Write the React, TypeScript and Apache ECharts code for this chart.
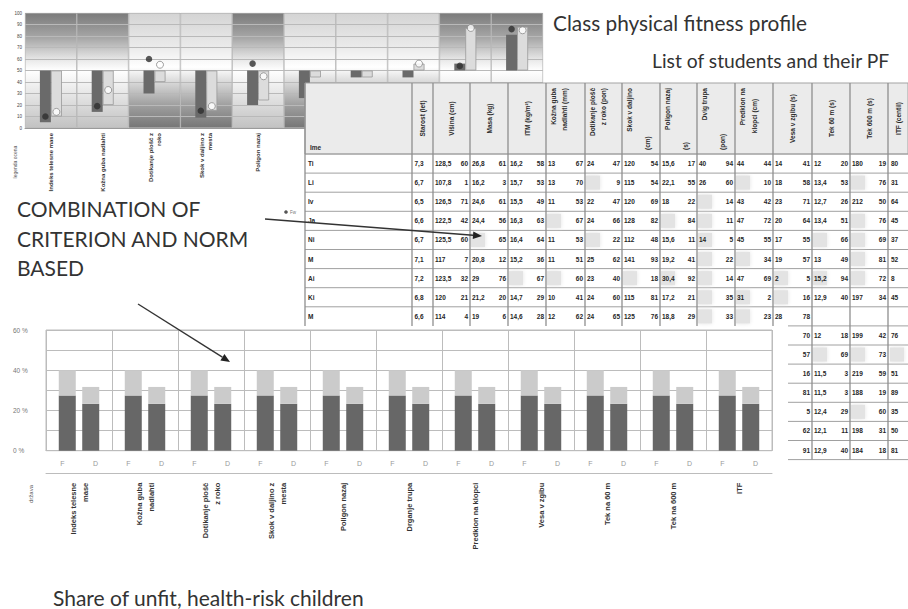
import React, { useEffect, useRef } from "react";
import * as echarts from "echarts";

// ---------------- Top chart: class physical fitness profile ----------------
const profileCategories = [
  "Indeks telesne mase",
  "Kožna guba nadlahti",
  "Dotikanje plošč z\nroko",
  "Skok v daljino z\nmesta",
  "Poligon nazaj",
  "Dviganje trupa",
  "Predklon na klopci",
  "Vesa v zgibu",
  "Tek na 60 m",
  "Tek na 600 m",
];
const profileDarkBar = [5, 14, 30, 9, 20, 26, 44, 44, 56, 81];
const profileLightBar = [10, 20, 40, 15, 24, 44, 44, 56, 87, 88];
const profileDarkDot = [10, 19, 60, 15, 56, null, null, null, 54, 86];
const profileLightDot = [14, 33, 55, 19, 45, null, null, 56, 87, 85];
const profileTicks = [0, 10, 20, 30, 40, 50, 60, 70, 80, 90, 100];
const profileBaseline = 50;
const profileShade = ["top", "top", "bottom", "bottom", "top", "bottom", "bottom", "bottom", "top", "top"];

// ---------------- Bottom chart: share of unfit children ----------------
const unfitCategories = [
  "Indeks telesne\nmase",
  "Kožna guba\nnadlahti",
  "Dotikanje plošč\nz roko",
  "Skok v daljino z\nmesta",
  "Poligon nazaj",
  "Drganje trupa",
  "Predklon na klopci",
  "Vesa v zgibu",
  "Tek na 60 m",
  "Tek na 600 m",
  "ITF",
];
const unfitSubLabels = ["F", "D"];
const fUnfitDark = [27.5, 27.5, 27.5, 27.5, 27.5, 27.5, 27.5, 27.5, 27.5, 27.5, 27.5];
const fUnfitLight = [12.5, 12.5, 12.5, 12.5, 12.5, 12.5, 12.5, 12.5, 12.5, 12.5, 12.5];
const dUnfitDark = [23.3, 23.3, 23.3, 23.3, 23.3, 23.3, 23.3, 23.3, 23.3, 23.3, 23.3];
const dUnfitLight = [8.4, 8.4, 8.4, 8.4, 8.4, 8.4, 8.4, 8.4, 8.4, 8.4, 8.4];
const unfitTicks = [0, 10, 20, 30, 40, 50, 60];

// ---------------- Student table ----------------
const tableHeaders = [
  ["Ime"],
  ["Starost (let)"],
  ["Višina (cm)"],
  ["Masa (kg)"],
  ["ITM (kg/m²)"],
  ["Kožna guba", "nadlahti (mm)"],
  ["Dotikanje plošč", "z roko (pon)"],
  ["Skok v daljino", "(cm)"],
  ["Poligon nazaj", "(s)"],
  ["Dvig trupa", "(pon)"],
  ["Predklon na", "klopci (cm)"],
  ["Vesa v zgibu (s)"],
  ["Tek 60 m (s)"],
  ["Tek 600 m (s)"],
  ["ITF (centil)"],
];
// "~" = blurred cell, "*" = highlighted cell
const studentRows = [
  ["Ti", "7,3", "128,5", "60", "26,8", "61", "16,2", "58", "13", "67", "24", "47", "120", "54", "15,6", "17", "40", "94", "44", "44", "14", "41", "12", "20", "180", "19", "80"],
  ["Li", "6,7", "107,8", "1", "16,2", "3", "15,7", "53", "13", "70", "~", "9", "115", "54", "22,1", "55", "26", "60", "~", "10", "18", "58", "13,4", "53", "~", "76", "31"],
  ["Iv", "6,5", "126,5", "71", "24,6", "61", "15,5", "49", "11", "53", "22", "47", "120", "69", "18", "22", "~", "14", "43", "42", "23", "71", "12,7", "26", "212", "50", "64"],
  ["Ja", "6,6", "122,5", "42", "24,4", "56", "16,3", "63", "~", "67", "24", "66", "128", "82", "~", "84", "~", "11", "47", "72", "20", "64", "13,4", "51", "~", "76", "45"],
  ["Ni", "6,7", "125,5", "60", "~", "65", "16,4", "64", "11", "53", "~", "22", "112", "48", "15,6", "11", "*14", "5", "45", "55", "17", "55", "~", "66", "~", "69", "37"],
  ["M", "7,1", "117", "7", "20,8", "12", "15,2", "36", "11", "51", "25", "62", "141", "93", "19,2", "41", "~", "22", "~", "34", "19", "57", "13", "49", "~", "81", "52"],
  ["Ai", "7,2", "123,5", "32", "29", "76", "~", "67", "~", "60", "23", "40", "~", "18", "*30,4", "92", "~", "14", "47", "69", "*2", "5", "*15,2", "94", "~", "72", "8"],
  ["Ki", "6,8", "120", "21", "21,2", "20", "14,7", "29", "10", "41", "24", "60", "115", "81", "17,2", "21", "~", "35", "*31", "2", "~", "16", "12,9", "40", "197", "34", "45"],
  ["M", "6,6", "114", "4", "19", "6", "14,6", "28", "12", "62", "24", "65", "125", "76", "18,8", "29", "~", "33", "~", "23", "28", "78", "", "", "", "", ""],
];
// continuation rows: Vesa pct, Tek 60 m, pct, Tek 600 m, pct, ITF
const lowerRows = [
  ["70", "12", "18", "199", "42", "76"],
  ["57", "~", "69", "~", "73", "~"],
  ["16", "11,5", "3", "219", "59", "51"],
  ["81", "11,5", "3", "188", "19", "89"],
  ["5", "12,4", "29", "~", "60", "35"],
  ["62", "12,1", "11", "198", "31", "50"],
  ["91", "12,9", "40", "184", "18", "81"],
];

// ---------------- layout constants ----------------
const COL_EDGES = [305, 412, 433, 470, 508, 546, 585, 622, 660, 697, 735, 773, 812, 850, 888, 908];
const HEAD_TOP = 83;
const HEAD_BOT = 154;
const ROW_H = 19.1;
const SANS = "'Liberation Sans', Arial, sans-serif";
const LATO = "Lato, 'Open Sans', sans-serif";

function txt(x: number, y: number, text: string, o: any = {}) {
  return {
    type: "text",
    x,
    y,
    rotation: o.rotation || 0,
    z: o.z ?? 60,
    silent: true,
    style: {
      text,
      fill: o.fill || "#2b2b2b",
      fontSize: o.fontSize || 6.5,
      fontFamily: o.fontFamily || SANS,
      fontWeight: o.fontWeight || "normal",
      textAlign: o.align || "left",
      textVerticalAlign: o.valign || "middle",
      lineHeight: o.lineHeight,
    },
  };
}

function arrow(x1: number, y1: number, x2: number, y2: number) {
  const dx = x2 - x1;
  const dy = y2 - y1;
  const len = Math.hypot(dx, dy);
  const ux = dx / len;
  const uy = dy / len;
  const hl = 9;
  const hw = 3.8;
  const bx = x2 - ux * hl;
  const by = y2 - uy * hl;
  return [
    { type: "line", z: 80, silent: true, shape: { x1, y1, x2: bx, y2: by }, style: { stroke: "#333", lineWidth: 1.4 } },
    {
      type: "polygon",
      z: 80,
      silent: true,
      shape: { points: [[x2, y2], [bx - uy * hw, by + ux * hw], [bx + uy * hw, by - ux * hw]] },
      style: { fill: "#222" },
    },
  ];
}

function cellPos(i: number) {
  if (i === 0) return { x: COL_EDGES[0] + 3, align: "left", c: 0 };
  if (i === 1) return { x: COL_EDGES[1] + 2.5, align: "left", c: 1 };
  if (i === 26) return { x: COL_EDGES[14] + 3, align: "left", c: 14 };
  const c = Math.floor(i / 2) + 1;
  if (i % 2 === 0) return { x: COL_EDGES[c] + 2, align: "left", c };
  return { x: COL_EDGES[c + 1] - 2, align: "right", c };
}

function cellElements(value: string, i: number, cy: number) {
  const out: any[] = [];
  if (value === "") return out;
  const p = cellPos(i);
  const blurW = 14;
  const rx = p.align === "left" ? p.x - 1 : p.x - blurW + 1;
  if (value === "~" || value.startsWith("*")) {
    out.push({
      type: "rect",
      z: 55,
      silent: true,
      shape: { x: rx, y: cy - 7, width: blurW, height: 14 },
      style: { fill: "#e3e3e3", shadowBlur: 4, shadowColor: "#e3e3e3" },
    });
  }
  if (value === "~") return out;
  const t = value.startsWith("*") ? value.slice(1) : value;
  out.push(txt(p.x, cy, t, { align: p.align, fontWeight: "bold", fontSize: 6.5, z: 58, fill: "#262626" }));
  return out;
}

function buildTable() {
  const els: any[] = [];
  const leftBottom = HEAD_BOT + studentRows.length * ROW_H;
  const rightBottom = leftBottom + lowerRows.length * ROW_H;
  els.push({ type: "rect", z: 50, silent: true, shape: { x: 305, y: HEAD_TOP, width: 603, height: leftBottom - HEAD_TOP }, style: { fill: "#fff" } });
  els.push({ type: "rect", z: 51, silent: true, shape: { x: 305, y: HEAD_TOP, width: 603, height: HEAD_BOT - HEAD_TOP }, style: { fill: "#ebebeb", stroke: "#a3a3a3", lineWidth: 1 } });

  tableHeaders.forEach((h, c) => {
    const l = COL_EDGES[c];
    const r = COL_EDGES[c + 1];
    if (c === 0) {
      els.push(txt(l + 5, HEAD_BOT - 7, h[0], { fontWeight: "bold", fontSize: 6.5 }));
      return;
    }
    const rot = Math.PI / 2;
    if (h.length === 1) {
      els.push(txt((l + r) / 2, 118.5, h[0], { rotation: rot, align: "center", fontWeight: "bold", fontSize: 6.5 }));
    } else {
      els.push(txt(l + 7.5, 88, h[0], { rotation: rot, align: "right", fontWeight: "bold", fontSize: 6.5 }));
      if (c === 5 || c === 6) {
        els.push(txt(l + 18, 88, h[1], { rotation: rot, align: "right", fontWeight: "bold", fontSize: 6.5 }));
      } else if (c === 10) {
        els.push(txt(l + 19, 116, h[1], { rotation: rot, align: "center", fontWeight: "bold", fontSize: 6.5 }));
      } else {
        els.push(txt(l + 25, 150, h[1], { rotation: rot, align: "left", fontWeight: "bold", fontSize: 6.5 }));
      }
    }
  });

  for (let k = 0; k <= studentRows.length - 1; k++) {
    const y = HEAD_BOT + k * ROW_H;
    els.push({ type: "line", z: 53, silent: true, shape: { x1: 305, y1: y, x2: 908, y2: y }, style: { stroke: "#a0a0a0", lineWidth: 1 } });
  }
  for (let k = studentRows.length; k <= studentRows.length + lowerRows.length; k++) {
    const y = HEAD_BOT + k * ROW_H;
    els.push({ type: "line", z: 53, silent: true, shape: { x1: 788, y1: y, x2: 908, y2: y }, style: { stroke: "#a0a0a0", lineWidth: 1 } });
  }
  COL_EDGES.slice(0, -1).forEach((x) => {
    const bottom = x >= 800 ? rightBottom : leftBottom;
    els.push({ type: "line", z: 56, silent: true, shape: { x1: x, y1: HEAD_TOP, x2: x, y2: bottom }, style: { stroke: "#8e8e8e", lineWidth: 1.3 } });
  });

  studentRows.forEach((row, k) => {
    const cy = HEAD_BOT + (k + 0.5) * ROW_H;
    row.forEach((v, i) => els.push(...cellElements(v, i, cy)));
  });
  lowerRows.forEach((row, k) => {
    const cy = HEAD_BOT + (studentRows.length + k + 0.5) * ROW_H;
    row.forEach((v, j) => els.push(...cellElements(v, 21 + j, cy)));
  });
  return els;
}

function shadeGradient(kind: string) {
  const stops =
    kind === "top"
      ? [
          { offset: 0, color: "#7b7b7b" },
          { offset: 0.22, color: "#a8a8a8" },
          { offset: 0.42, color: "#ececec" },
          { offset: 0.5, color: "#ffffff" },
          { offset: 0.72, color: "#e4e4e4" },
          { offset: 1, color: "#c2c2c2" },
        ]
      : [
          { offset: 0, color: "#d4d4d4" },
          { offset: 0.3, color: "#ebebeb" },
          { offset: 0.47, color: "#ffffff" },
          { offset: 0.6, color: "#d9d9d9" },
          { offset: 0.8, color: "#a0a0a0" },
          { offset: 1, color: "#767676" },
        ];
  return new echarts.graphic.LinearGradient(0, 0, 0, 1, stops);
}

function buildOption() {
  const yMax = profileTicks[profileTicks.length - 1];
  const yStep = profileTicks[1] - profileTicks[0];
  const uMax = unfitTicks[unfitTicks.length - 1];
  const uStep = unfitTicks[1] - unfitTicks[0];
  const fdLabels = unfitCategories.flatMap(() => unfitSubLabels);

  const graphicEls: any[] = [
    ...buildTable(),
    txt(553, 22, "Class physical fitness profile", { fontFamily: LATO, fontSize: 20.8, fill: "#333", z: 70 }),
    txt(652, 60, "List of students and their PF", { fontFamily: LATO, fontSize: 19.3, fill: "#333", z: 70 }),
    txt(17, 208, "COMBINATION OF", { fontFamily: LATO, fontSize: 21, fill: "#333", z: 70 }),
    txt(17, 238, "CRITERION AND NORM", { fontFamily: LATO, fontSize: 21, fill: "#333", z: 70 }),
    txt(17, 267, "BASED", { fontFamily: LATO, fontSize: 21, fill: "#333", z: 70 }),
    txt(53, 597, "Share of unfit, health-risk children", { fontFamily: LATO, fontSize: 21, fill: "#333", z: 70 }),
    txt(15, 162, "legenda ocena", { rotation: Math.PI / 2, align: "center", fontSize: 5, fill: "#555", z: 10 }),
    txt(31, 494, "država", { rotation: Math.PI / 2, align: "center", fontSize: 6, fill: "#555", z: 10 }),
    { type: "circle", z: 10, silent: true, shape: { cx: 286, cy: 212, r: 1.8 }, style: { fill: "#555" } },
    txt(290, 212, "Fw", { fontSize: 4.5, fill: "#777", z: 10 }),
    ...arrow(265, 219, 482, 236),
    ...arrow(138, 304, 230, 362),
  ];

  return {
    animation: false,
    backgroundColor: "#ffffff",
    textStyle: { fontFamily: SANS },
    grid: [
      { left: 25, top: 13, width: 518, height: 115 },
      { left: 46, top: 330, width: 726, height: 120.7, show: true, borderColor: "#bcbcbc", borderWidth: 1, backgroundColor: "transparent" },
    ],
    xAxis: [
      {
        type: "category",
        gridIndex: 0,
        data: profileCategories,
        axisLine: { lineStyle: { color: "#999" } },
        axisTick: { length: 59, interval: 0, lineStyle: { color: "#bbb" } },
        axisLabel: { rotate: 90, interval: 0, fontSize: 6, color: "#333", margin: 5, lineHeight: 8, fontWeight: "bold" },
        splitLine: { show: false },
      },
      { type: "category", gridIndex: 0, data: profileCategories, show: false },
      {
        type: "category",
        gridIndex: 1,
        data: unfitCategories,
        axisLine: { lineStyle: { color: "#bcbcbc" } },
        axisTick: { length: 115, interval: 0, lineStyle: { color: "#bcbcbc" } },
        axisLabel: { rotate: 90, interval: 0, fontSize: 7.5, fontWeight: "bold", margin: 32, color: "#333", lineHeight: 12 },
        splitLine: { show: true, interval: 0, lineStyle: { color: "#bcbcbc" } },
      },
      {
        type: "category",
        gridIndex: 1,
        data: fdLabels,
        position: "bottom",
        offset: 23,
        axisLine: { lineStyle: { color: "#bcbcbc" } },
        axisTick: { inside: true, length: 23, interval: 0, lineStyle: { color: "#d2d2d2" } },
        axisLabel: { inside: true, interval: 0, margin: 7, fontSize: 7, color: "#999" },
      },
    ],
    yAxis: [
      {
        type: "value",
        gridIndex: 0,
        min: profileTicks[0],
        max: yMax,
        interval: yStep,
        axisLabel: { fontSize: 4.5, color: "#444", margin: 3 },
        axisLine: { show: false },
        axisTick: { show: false },
        splitLine: { lineStyle: { color: "#c8c8c8" } },
      },
      {
        type: "value",
        gridIndex: 1,
        min: unfitTicks[0],
        max: uMax,
        interval: uStep,
        axisLabel: {
          fontSize: 6.5,
          color: "#777",
          margin: 33,
          align: "left",
          formatter: (v: number) => (v % 20 === 0 ? v + " %" : ""),
        },
        axisLine: { show: false },
        axisTick: { show: false },
        splitLine: { lineStyle: { color: "#bcbcbc" } },
      },
    ],
    series: [
      {
        type: "bar",
        xAxisIndex: 1,
        yAxisIndex: 0,
        barWidth: "100%",
        silent: true,
        z: 1,
        data: profileShade.map((k) => ({ value: yMax, itemStyle: { color: shadeGradient(k), borderColor: "#a8a8a8", borderWidth: 0.6 } })),
        markLine: {
          silent: true,
          z: 2,
          symbol: "none",
          label: { show: false },
          lineStyle: { color: "#b9b9b9", width: 1, type: "solid" },
          data: profileTicks.slice(1, -1).map((v) => ({ yAxis: v })),
        },
      },
      {
        type: "bar",
        xAxisIndex: 0,
        yAxisIndex: 0,
        stack: "dark",
        barWidth: 11,
        barGap: "0%",
        silent: true,
        z: 3,
        itemStyle: { color: "transparent" },
        data: profileDarkBar.map((v) => Math.min(profileBaseline, v)),
      },
      {
        type: "bar",
        xAxisIndex: 0,
        yAxisIndex: 0,
        stack: "dark",
        barWidth: 11,
        barGap: "0%",
        z: 3,
        itemStyle: { color: "#6a6a6a" },
        data: profileDarkBar.map((v) => Math.abs(v - profileBaseline)),
      },
      {
        type: "bar",
        xAxisIndex: 0,
        yAxisIndex: 0,
        stack: "light",
        barWidth: 11,
        barGap: "0%",
        silent: true,
        z: 3,
        itemStyle: { color: "transparent" },
        data: profileLightBar.map((v) => Math.min(profileBaseline, v)),
      },
      {
        type: "bar",
        xAxisIndex: 0,
        yAxisIndex: 0,
        stack: "light",
        barWidth: 11,
        barGap: "0%",
        z: 3,
        itemStyle: { color: "#dcdcdc", borderColor: "#999", borderWidth: 0.8 },
        data: profileLightBar.map((v) => Math.abs(v - profileBaseline)),
      },
      {
        type: "scatter",
        xAxisIndex: 0,
        yAxisIndex: 0,
        z: 5,
        symbolSize: 6.5,
        symbolOffset: [-5.5, 0],
        itemStyle: { color: "#2e2e2e" },
        data: profileDarkDot,
      },
      {
        type: "scatter",
        xAxisIndex: 0,
        yAxisIndex: 0,
        z: 5,
        symbolSize: 7,
        symbolOffset: [5.5, 0],
        itemStyle: { color: "#ffffff", borderColor: "#888", borderWidth: 1 },
        data: profileLightDot,
      },
      {
        type: "bar",
        xAxisIndex: 2,
        yAxisIndex: 1,
        stack: "F",
        barWidth: 17,
        barGap: "38%",
        itemStyle: { color: "#676767" },
        data: fUnfitDark,
      },
      {
        type: "bar",
        xAxisIndex: 2,
        yAxisIndex: 1,
        stack: "F",
        barWidth: 17,
        barGap: "38%",
        itemStyle: { color: "#cbcbcb" },
        data: fUnfitLight,
      },
      {
        type: "bar",
        xAxisIndex: 2,
        yAxisIndex: 1,
        stack: "D",
        barWidth: 17,
        barGap: "38%",
        itemStyle: { color: "#676767" },
        data: dUnfitDark,
      },
      {
        type: "bar",
        xAxisIndex: 2,
        yAxisIndex: 1,
        stack: "D",
        barWidth: 17,
        barGap: "38%",
        itemStyle: { color: "#cbcbcb" },
        data: dUnfitLight,
      },
    ],
    graphic: { elements: graphicEls },
  };
}

export default function App() {
  const ref = useRef<HTMLDivElement>(null);
  useEffect(() => {
    document.body.style.margin = "0";
    const chart = echarts.init(ref.current as HTMLDivElement, null, { renderer: "svg" });
    chart.setOption(buildOption() as any);
    return () => chart.dispose();
  }, []);
  return (
    <div
      ref={ref}
      style={{ width: 908, height: 609, position: "absolute", left: 0, top: 0, background: "#fff" }}
    />
  );
}
